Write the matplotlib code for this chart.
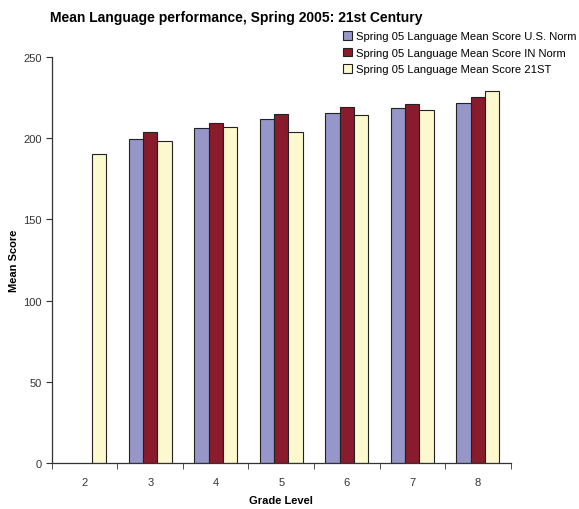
import numpy as np
import matplotlib
matplotlib.use('Agg')
import matplotlib.pyplot as plt

# Mean language scores by grade
grades = ['2', '3', '4', '5', '6', '7', '8']
us_norm = [np.nan, 199.2, 206.0, 211.7, 215.4, 218.7, 221.7]
in_norm = [np.nan, 203.7, 209.0, 214.8, 219.1, 220.7, 225.0]
school_21st = [190.0, 198.4, 206.8, 203.7, 214.0, 217.4, 229.1]

series_names = ['Spring 05 Language Mean Score U.S. Norm',
                'Spring 05 Language Mean Score IN Norm',
                'Spring 05 Language Mean Score 21ST']
colors = ['#9696C8', '#8A1B2C', '#FCF9CF']

plt.rcParams['font.family'] = ['Liberation Sans', 'DejaVu Sans']

fig = plt.figure(figsize=(5.79, 5.10), dpi=100)
ax = fig.add_axes([0.0898, 0.090, 0.7919, 0.797])

x = np.arange(len(grades))
width = 0.22
for i, (vals, name, c) in enumerate(zip([us_norm, in_norm, school_21st], series_names, colors)):
    ax.bar(x + (i - 1) * width, vals, width, color=c, edgecolor='#222222',
           linewidth=0.8, label=name)

ax.set_xlim(-0.5, len(grades) - 0.5)
ax.set_ylim(0, 250)
ax.set_yticks([0, 50, 100, 150, 200, 250])
ax.set_xticks(x)
ax.set_xticklabels(grades)
ax.set_xticks(np.arange(-0.5, len(grades), 1), minor=True)
ax.tick_params(axis='x', which='major', length=0, pad=10, labelsize=8, labelcolor='#333333')
ax.tick_params(axis='x', which='minor', length=4, direction='out', color='#333333')
ax.tick_params(axis='y', length=4, direction='out', labelsize=8, labelcolor='#333333', color='#333333')

for side in ['top', 'right']:
    ax.spines[side].set_visible(False)
for side in ['left', 'bottom']:
    ax.spines[side].set_color('#333333')
    ax.spines[side].set_linewidth(0.9)

ax.set_xlabel('Grade Level', fontsize=8, fontweight='bold', labelpad=6)
ax.set_ylabel('Mean Score', fontsize=8, fontweight='bold', labelpad=3)

fig.text(0.086, 0.965, 'Mean Language performance, Spring 2005: 21st Century',
         fontsize=10, fontweight='bold', va='center', ha='left')

fig.legend(loc='upper right', bbox_to_anchor=(1.003, 0.946), frameon=False,
           fontsize=8.15, handlelength=0.8, handleheight=0.8, handletextpad=0.3,
           labelspacing=0.55, borderaxespad=0)

fig.savefig('out.png', dpi=100)
